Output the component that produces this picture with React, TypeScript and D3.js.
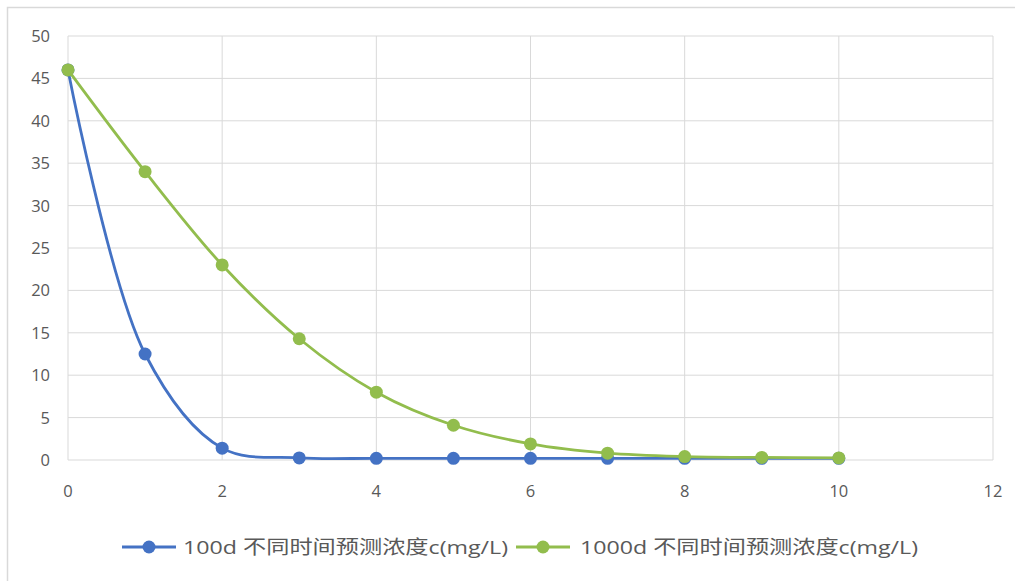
import React from "react";
import * as d3 from "d3";

const xValues = [0, 1, 2, 3, 4, 5, 6, 7, 8, 9, 10];
const series100d = [46, 12.5, 1.4, 0.25, 0.2, 0.2, 0.2, 0.2, 0.2, 0.2, 0.2];
const series1000d = [46, 34, 23, 14.3, 8, 4.1, 1.9, 0.8, 0.4, 0.3, 0.25];
const xTicks = [0, 2, 4, 6, 8, 10, 12];
const yTicks = [0, 5, 10, 15, 20, 25, 30, 35, 40, 45, 50];
const seriesNames = ["100d 不同时间预测浓度c(mg/L)", "1000d 不同时间预测浓度c(mg/L)"];
const seriesColors = ["#4472C4", "#92BD4D"];

const W = 1015;
const H = 581;
const plot = { left: 68, right: 993, top: 36, bottom: 460 };
const font = "'Open Sans', 'Noto Sans CJK SC', sans-serif";

export default function App() {
  const x = d3.scaleLinear().domain([0, 12]).range([plot.left, plot.right]);
  const y = d3.scaleLinear().domain([0, 50]).range([plot.bottom, plot.top]);
  const line = d3
    .line<number>()
    .x((_, i) => x(xValues[i]))
    .y((d) => y(d))
    .curve(d3.curveCatmullRom.alpha(0.5));
  const all = [series100d, series1000d];

  const legendItems = [
    { lx: 122, tx: 183, len: 325 },
    { lx: 516, tx: 580, len: 338 },
  ];

  return (
    <svg width={W} height={H} style={{ position: "absolute", left: 0, top: 0, background: "#fff" }}>
      <rect x={7.5} y={7.5} width={W + 10} height={H + 10} fill="#fff" stroke="#d9d9d9" strokeWidth={1.5} />
      {yTicks.map((t) => (
        <line key={"gy" + t} x1={plot.left} x2={plot.right} y1={y(t)} y2={y(t)} stroke="#d9d9d9" strokeWidth={1} />
      ))}
      {xTicks.map((t) => (
        <line key={"gx" + t} x1={x(t)} x2={x(t)} y1={plot.top} y2={plot.bottom} stroke="#d9d9d9" strokeWidth={1} />
      ))}
      {yTicks.map((t) => (
        <text key={"ty" + t} x={50} y={y(t) + 6} textAnchor="end" fontSize={16.5} fill="#595959" fontFamily={font}>
          {t}
        </text>
      ))}
      {xTicks.map((t) => (
        <text key={"tx" + t} x={x(t)} y={497} textAnchor="middle" fontSize={16.5} fill="#595959" fontFamily={font}>
          {t}
        </text>
      ))}
      {all.map((s, si) => (
        <g key={"s" + si}>
          <path d={line(s) || ""} fill="none" stroke={seriesColors[si]} strokeWidth={2.8} />
          {s.map((v, i) => (
            <circle key={i} cx={x(xValues[i])} cy={y(v)} r={6.5} fill={seriesColors[si]} />
          ))}
        </g>
      ))}
      {legendItems.map((it, i) => (
        <g key={"lg" + i}>
          <line x1={it.lx} x2={it.lx + 54} y1={547} y2={547} stroke={seriesColors[i]} strokeWidth={2.8} />
          <circle cx={it.lx + 27} cy={547} r={6.5} fill={seriesColors[i]} />
          <text
            x={it.tx}
            y={554}
            fontSize={19}
            fill="#595959"
            fontFamily={font}
            textLength={it.len}
            lengthAdjust="spacingAndGlyphs"
          >
            {seriesNames[i]}
          </text>
        </g>
      ))}
    </svg>
  );
}
